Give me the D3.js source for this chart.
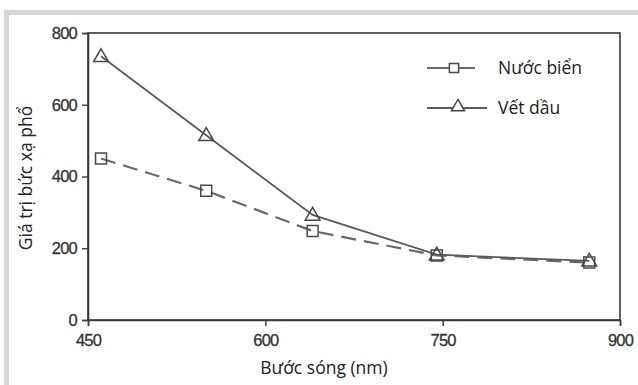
<!DOCTYPE html>
<html><head><meta charset="utf-8">
<script src="https://cdn.jsdelivr.net/npm/d3@7"></script>
<style>body{margin:0;background:#fff}svg{display:block}</style>
</head><body>
<svg id="c" width="638" height="385"></svg>
<script>
const wavelengths = [461, 550, 640, 745, 874];
const seaWater = [450, 360, 248, 180, 160];
const oilSlick = [735, 515, 293, 182, 165];
const seriesNames = ["Nước biển", "Vết dầu"];
const xTicks = [450, 600, 750, 900];
const yTicks = [0, 200, 400, 600, 800];

const svg = d3.select("#c");
// gray frame (top and left)
svg.append("rect").attr("x",4).attr("y",10).attr("width",634).attr("height",5).attr("fill","#d6d6d6");
svg.append("rect").attr("x",4).attr("y",10).attr("width",5).attr("height",375).attr("fill","#d6d6d6");

const L=88,R=620,T=33,B=320;
const x=d3.scaleLinear().domain([450,900]).range([L,R]);
const y=d3.scaleLinear().domain([0,800]).range([B,T]);
const axisCol="#3a3a3a";

// frame
svg.append("rect").attr("x",L).attr("y",T).attr("width",R-L).attr("height",B-T)
  .attr("fill","none").attr("stroke",axisCol).attr("stroke-width",1.6);

const xa=svg.append("g").attr("transform",`translate(0,${B})`)
  .call(d3.axisBottom(x).tickValues(xTicks).tickSize(6).tickPadding(8).tickFormat(d3.format("d")));
const ya=svg.append("g").attr("transform",`translate(${L},0)`)
  .call(d3.axisLeft(y).tickValues(yTicks).tickSize(6).tickPadding(5).tickFormat(d3.format("d")));
[xa,ya].forEach(a=>{
  a.select(".domain").attr("stroke",axisCol).attr("stroke-width",1.6);
  a.selectAll(".tick line").attr("stroke",axisCol).attr("stroke-width",1.4);
  a.selectAll("text").attr("font-family","Liberation Sans, Arial, sans-serif")
   .attr("font-size",16.5).attr("fill","#333").attr("letter-spacing","-0.8")
   .attr("stroke","#333").attr("stroke-width",0.3);
});

const lineGen=d3.line().x(d=>x(d[0])).y(d=>y(d[1]));
const seaPts=wavelengths.map((w,i)=>[w,seaWater[i]]);
const oilPts=wavelengths.map((w,i)=>[w,oilSlick[i]]);

svg.append("path").datum(seaPts).attr("d",lineGen).attr("fill","none")
  .attr("stroke","#6a6a6a").attr("stroke-width",2.2).attr("stroke-dasharray","15,8");
svg.append("path").datum(oilPts).attr("d",lineGen).attr("fill","none")
  .attr("stroke","#5a5a5a").attr("stroke-width",1.8);

const tri=d3.symbol().type(d3.symbolTriangle).size(95);
const sq=d3.symbol().type(d3.symbolSquare).size(120);
const mcol="#4a4a4a";
svg.selectAll(".sq").data(seaPts).join("path").attr("class","sq")
  .attr("d",sq).attr("transform",d=>`translate(${x(d[0])},${y(d[1])})`)
  .attr("fill","none").attr("stroke",mcol).attr("stroke-width",1.5);
svg.selectAll(".tri").data(oilPts).join("path").attr("class","tri")
  .attr("d",tri).attr("transform",d=>`translate(${x(d[0])},${y(d[1])+1})`)
  .attr("fill","none").attr("stroke",mcol).attr("stroke-width",1.5);

// legend
const lg=svg.append("g");
lg.append("line").attr("x1",427).attr("x2",475).attr("y1",68).attr("y2",68)
  .attr("stroke","#6a6a6a").attr("stroke-width",2);
lg.append("path").attr("d",d3.symbol().type(d3.symbolSquare).size(85)).attr("transform","translate(454,68)")
  .attr("fill","#fff").attr("stroke",mcol).attr("stroke-width",1.5);
lg.append("line").attr("x1",427).attr("x2",487).attr("y1",108).attr("y2",108)
  .attr("stroke","#5a5a5a").attr("stroke-width",1.8);
lg.append("path").attr("d",d3.symbol().type(d3.symbolTriangle).size(75)).attr("transform","translate(458,107)")
  .attr("fill","#fff").attr("stroke",mcol).attr("stroke-width",1.5);
lg.selectAll("text").data(seriesNames).join("text")
  .attr("x",498).attr("y",(d,i)=>68+i*40).attr("dy","0.35em")
  .attr("font-family","Open Sans, sans-serif").attr("font-size",17.5).attr("fill","#222").text(d=>d);

// axis titles
svg.append("text").attr("x",324).attr("y",374).attr("text-anchor","middle")
  .attr("font-family","Open Sans, sans-serif").attr("font-size",17.5).attr("fill","#222").text("Bước sóng (nm)");
svg.append("text").attr("transform","translate(32,178) rotate(-90)").attr("text-anchor","middle")
  .attr("font-family","Open Sans, sans-serif").attr("font-size",17.5).attr("fill","#222").text("Giá trị bức xạ phổ");
</script>
</body></html>
